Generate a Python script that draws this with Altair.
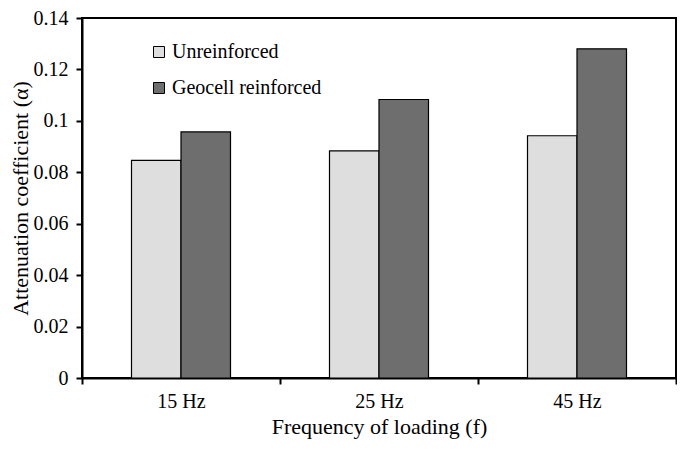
import altair as alt
import pandas as pd

frequencies = ["15 Hz", "25 Hz", "45 Hz"]
series_names = ["Unreinforced", "Geocell reinforced"]
unreinforced = [0.0846, 0.0883, 0.0942]
geocell = [0.0957, 0.1083, 0.1280]
y_ticks = [0, 0.02, 0.04, 0.06, 0.08, 0.1, 0.12, 0.14]
fill_colors = ["#dedede", "#6e6e6e"]

rows = []
for f, u, g in zip(frequencies, unreinforced, geocell):
    rows.append({"freq": f, "series": series_names[0], "value": u})
    rows.append({"freq": f, "series": series_names[1], "value": g})
df = pd.DataFrame(rows)

FONT = "Liberation Serif"

chart = alt.Chart(df).mark_bar(stroke="black", strokeWidth=1.2).encode(
    x=alt.X(
        "freq:N",
        sort=frequencies,
        scale=alt.Scale(paddingInner=0, paddingOuter=0),
        axis=alt.Axis(
            title="Frequency of loading (f)",
            labelAngle=0,
            tickBand="extent",
            tickSize=6,
            tickWidth=2,
            tickColor="black",
            domainColor="black",
            domainWidth=2,
            labelPadding=7,
            titlePadding=5,
        ),
    ),
    xOffset=alt.XOffset(
        "series:N",
        sort=series_names,
        scale=alt.Scale(paddingInner=0, paddingOuter=1),
    ),
    y=alt.Y(
        "value:Q",
        scale=alt.Scale(domain=[0, 0.14], nice=False),
        axis=alt.Axis(
            values=y_ticks,
            format="~g",
            title="Attenuation coefficient (α)",
            grid=False,
            tickSize=6,
            tickWidth=2,
            tickColor="black",
            domainColor="black",
            domainWidth=2,
            labelPadding=8,
            titlePadding=1,
        ),
    ),
    fill=alt.Fill(
        "series:N",
        sort=series_names,
        scale=alt.Scale(domain=series_names, range=fill_colors),
        legend=alt.Legend(
            title=None,
            orient="none",
            legendX=67,
            legendY=24,
            direction="vertical",
            symbolType="square",
            symbolSize=121,
            symbolStrokeColor="black",
            symbolStrokeWidth=1,
            symbolOpacity=1,
            labelFont=FONT,
            labelFontSize=20,
            labelColor="black",
            labelOffset=3,
            rowPadding=16,
        ),
    ),
).properties(
    width=594,
    height=360,
    autosize=alt.AutoSizeParams(type="none"),
    padding={"left": 74, "top": 10, "right": 1, "bottom": 66},
).configure_view(
    stroke="black",
    strokeWidth=2,
).configure_axis(
    labelFont=FONT,
    labelFontSize=20,
    labelColor="black",
    titleFont=FONT,
    titleFontSize=22,
    titleFontWeight="normal",
    titleColor="black",
)

chart.save("out.html", embed_options={"renderer": "svg", "actions": False})
